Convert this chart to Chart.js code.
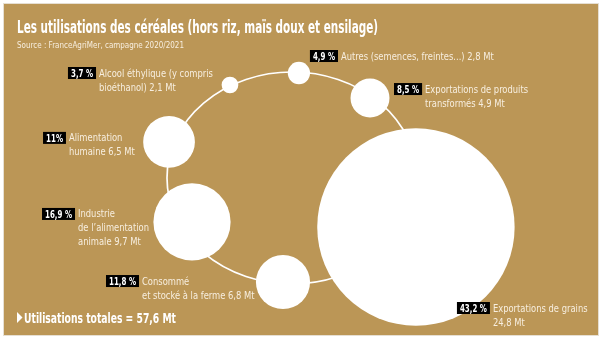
<!DOCTYPE html>
<html lang="fr">
<head>
<meta charset="utf-8">
<title>Les utilisations des céréales</title>
<script src="https://cdn.jsdelivr.net/npm/chart.js@4"></script>
<style>
    html, body { margin: 0; padding: 0; background: #fff; }
    #frame { position: absolute; left: 4px; top: 4px; width: 594px; height: 331px; background: #bb9656; box-shadow: 0 0 0 1px #e6dfd3; }
    #cereals { position: absolute; left: 0; top: 0; }
</style>
</head>
<body>
<div id="frame"></div>
<canvas id="cereals" width="605" height="342"></canvas>
<script>
// Utilisations des céréales, campagne 2020/2021 (source FranceAgriMer)
const categories = [
    ['Exportations de grains', ''],
    ['Industrie', 'de l\u2019alimentation', 'animale'],
    ['Consommé', 'et stocké à la ferme'],
    ['Alimentation', 'humaine'],
    ['Exportations de produits', 'transformés'],
    ['Autres (semences, freintes...)'],
    ['Alcool éthylique (y compris', 'bioéthanol)']
];
const tonnage = [24.8, 9.7, 6.8, 6.5, 4.9, 2.8, 2.1];   // Mt
const shares = [43.2, 16.9, 11.8, 11, 8.5, 4.9, 3.7];   // % du total

// layout only: where each bubble sits on the ring, and where its label goes
const ringAngle = [25, 152.6, 94.2, -160.9, -50.4, -86.8, -119.5];
const ringDepth = [1.094, 0.901, 0.984, 1.041, 0.979, 0.992, 1.008];
const labelDx = [41, -150, -177, -126, 24, 11, -162];
const labelDy = [75, -14, -7, -10, -15, -23, -18];

const RING = { cx: 292, cy: 178, a: 125, b: 106 };
const PX_PER_MT = 3.98;
const FONT = '"Liberation Sans Narrow", "DejaVu Sans Condensed", Roboto, "Open Sans", sans-serif';
const CREAM = '#f7eedf';

const fmt = v => String(v).replace('.', ',');

const bubbles = tonnage.map((t, i) => {
    const ang = ringAngle[i] * Math.PI / 180;
    return {
        x: RING.cx + RING.a * ringDepth[i] * Math.cos(ang),
        y: RING.cy + RING.b * ringDepth[i] * Math.sin(ang),
        r: t * PX_PER_MT
    };
});

/**
 * Draw text squeezed horizontally to mimic a condensed face
 */
function squeeze(ctx, text, x, y, sx) {
    ctx.save();
    ctx.translate(x, y);
    ctx.scale(sx, 1);
    ctx.fillText(text, 0, 0);
    ctx.restore();
}

function fitScale(ctx, font, text, width) {
    ctx.font = font;
    return width / ctx.measureText(text).width;
}

// thin white ring linking the bubbles
const ringPlugin = {
    id: 'ring',
    beforeDatasetsDraw(chart) {
        const { ctx, scales: { x, y } } = chart;
        const cx = x.getPixelForValue(RING.cx);
        const cy = y.getPixelForValue(RING.cy);
        const rx = Math.abs(x.getPixelForValue(RING.cx + RING.a) - cx);
        const ry = Math.abs(y.getPixelForValue(RING.cy + RING.b) - cy);
        ctx.save();
        ctx.beginPath();
        ctx.ellipse(cx, cy, rx, ry, 0, 0, Math.PI * 2);
        ctx.strokeStyle = '#fff';
        ctx.lineWidth = 1.7;
        ctx.stroke();
        ctx.restore();
    }
};

// percentage boxes and category names
const labelPlugin = {
    id: 'bubbleLabels',
    afterDatasetsDraw(chart) {
        const ctx = chart.ctx;
        const meta = chart.getDatasetMeta(0);
        const pctFont = `bold 10.5px ${FONT}`;
        const txtFont = `10.5px ${FONT}`;
        const pctSx = fitScale(ctx, pctFont, '16,9 %', 27);
        const txtSx = fitScale(ctx, txtFont, 'Exportations de produits', 103);

        ctx.save();
        ctx.textBaseline = 'alphabetic';
        meta.data.forEach((pt, i) => {
            const bx = pt.x + labelDx[i];
            const by = pt.y + labelDy[i];
            const pct = fmt(shares[i]) + (shares[i] % 1 ? ' %' : '%');

            ctx.font = pctFont;
            const w = ctx.measureText(pct).width * pctSx + 6;
            ctx.fillStyle = '#000';
            ctx.fillRect(bx, by, w, 12);
            ctx.fillStyle = '#fff';
            squeeze(ctx, pct, bx + 3, by + 10, pctSx);

            ctx.font = txtFont;
            ctx.fillStyle = CREAM;
            const lines = categories[i].slice();
            const last = lines.length - 1;
            lines[last] = (lines[last] + ' ' + fmt(tonnage[i]) + ' Mt').trim();
            lines.forEach((line, j) => {
                squeeze(ctx, line, bx + w + 3, by + 9.5 + j * 14, txtSx);
            });
        });
        ctx.restore();
    }
};

// title, source and total
const headerPlugin = {
    id: 'header',
    afterDraw(chart) {
        const ctx = chart.ctx;
        const title = 'Les utilisations des céréales (hors riz, maïs doux et ensilage)';
        const source = 'Source : FranceAgriMer, campagne 2020/2021';
        const total = tonnage.reduce((s, v) => s + v, 0);
        const totalText = 'Utilisations totales = ' + fmt(Math.round(total * 10) / 10) + ' Mt';

        ctx.save();
        ctx.fillStyle = '#fff';
        let sx = fitScale(ctx, `bold 17px ${FONT}`, title, 361);
        squeeze(ctx, title, 17, 33, sx);

        ctx.fillStyle = CREAM;
        sx = fitScale(ctx, `9px ${FONT}`, source, 167);
        squeeze(ctx, source, 17, 48, sx);

        ctx.fillStyle = '#fff';
        ctx.beginPath();
        ctx.moveTo(17, 312);
        ctx.lineTo(17, 323);
        ctx.lineTo(22.5, 317.5);
        ctx.closePath();
        ctx.fill();
        sx = fitScale(ctx, `bold 14.5px ${FONT}`, totalText, 152);
        squeeze(ctx, totalText, 24, 322.5, sx);
        ctx.restore();
    }
};

new Chart(document.getElementById('cereals'), {
    type: 'bubble',
    data: {
        labels: categories.map(c => c.join(' ').trim()),
        datasets: [{
            data: bubbles,
            backgroundColor: '#fff',
            borderWidth: 0,
            hoverRadius: 0,
            clip: false
        }]
    },
    options: {
        responsive: false,
        animation: false,
        events: [],
        layout: { padding: 0, autoPadding: false },
        scales: {
            x: { type: 'linear', display: false, min: 0, max: 605 },
            y: { type: 'linear', display: false, min: 0, max: 342, reverse: true }
        },
        plugins: {
            legend: { display: false },
            tooltip: { enabled: false }
        }
    },
    plugins: [ringPlugin, labelPlugin, headerPlugin]
});
</script>
</body>
</html>
